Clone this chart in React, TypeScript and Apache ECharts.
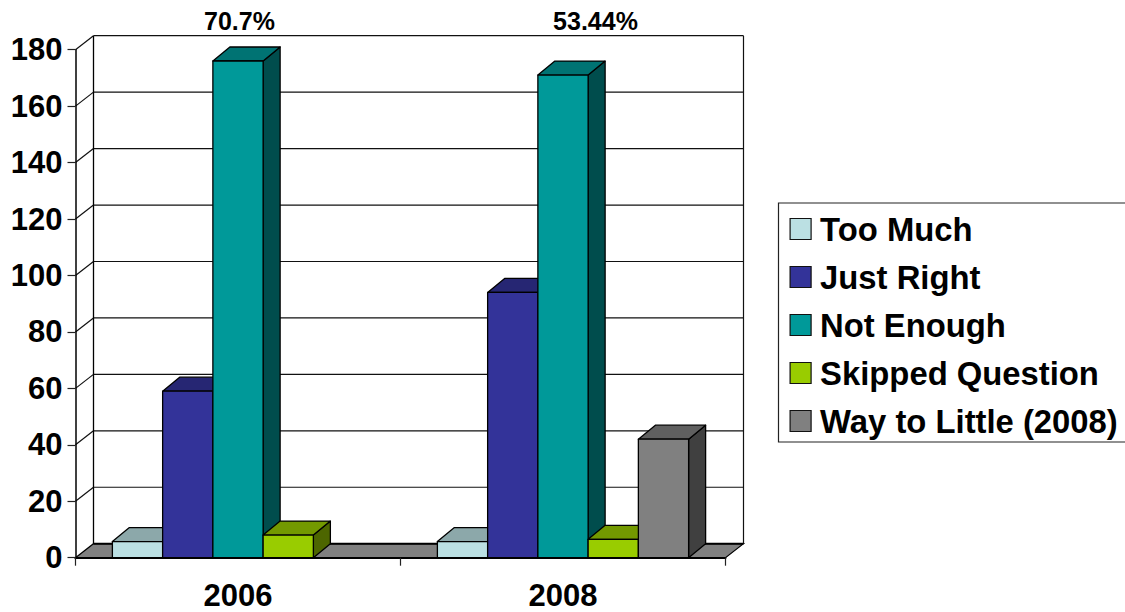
import React, { useEffect, useRef } from "react";
import * as echarts from "echarts";

const years = ["2006", "2008"];
const tooMuch = [5.7, 5.7];
const justRight = [59, 94];
const notEnough = [176, 171];
const skipped = [8, 6.5];
const wayToLittle = [null, 42];
const seriesNames = ["Too Much", "Just Right", "Not Enough", "Skipped Question", "Way to Little (2008)"];
const yTicks = [0, 20, 40, 60, 80, 100, 120, 140, 160, 180];
const topNotes = ["70.7%", "53.44%"];

const palette = [
  { front: "#BBE0E3", top: "#8CA8AA", side: "#5E7072" },
  { front: "#333399", top: "#262673", side: "#1A1A4D" },
  { front: "#009999", top: "#007373", side: "#004D4D" },
  { front: "#99CC00", top: "#739900", side: "#4D6600" },
  { front: "#808080", top: "#606060", side: "#404040" },
];

const FONT = "'Liberation Sans', Arial, sans-serif";
const WALL_DX = 18;
const WALL_DY = -14;
const BAR_DX = 17;
const BAR_DY = -14;
const BAR_FRAC = 0.1546;
const INK = "#000";

const barSeries = (name: string, values: (number | null)[], idx: number) => ({
  type: "custom",
  name,
  z: 3 + idx,
  clip: false,
  itemStyle: { color: palette[idx].front },
  data: values.map((v, i) => [i, v]),
  encode: { x: 0, y: 1 },
  renderItem: (_p: any, api: any) => {
    const v = api.value(1);
    if (v === null || v === undefined || isNaN(v)) return null;
    const c = palette[idx];
    const catW = api.size([1, 0])[0];
    const w = catW * BAR_FRAC;
    const [cx, yTop] = api.coord([api.value(0), v]);
    const [, yBase] = api.coord([api.value(0), 0]);
    const x0 = cx + (idx - 2.5) * w;
    const x1 = x0 + w;
    const stroke = { stroke: INK, lineWidth: 1.3, lineJoin: "round" };
    return {
      type: "group",
      children: [
        {
          type: "polygon",
          shape: { points: [[x1, yTop], [x1 + BAR_DX, yTop + BAR_DY], [x1 + BAR_DX, yBase + BAR_DY], [x1, yBase]] },
          style: { fill: c.side, ...stroke },
        },
        {
          type: "polygon",
          shape: { points: [[x0, yTop], [x0 + BAR_DX, yTop + BAR_DY], [x1 + BAR_DX, yTop + BAR_DY], [x1, yTop]] },
          style: { fill: c.top, ...stroke },
        },
        {
          type: "rect",
          shape: { x: x0, y: yTop, width: w, height: yBase - yTop },
          style: { fill: c.front, ...stroke },
        },
      ],
    };
  },
});

const wallSeries = {
  type: "custom",
  name: "walls",
  z: 1,
  clip: false,
  silent: true,
  data: yTicks.map((t) => [0, t]),
  encode: { x: 0, y: 1 },
  renderItem: (params: any, api: any) => {
    const sys = params.coordSys;
    const left = sys.x;
    const right = sys.x + sys.width;
    const t = api.value(1);
    const y = api.coord([0, t])[1];
    const line = { stroke: "#111", lineWidth: 1.2 };
    const children: any[] = [];
    if (t === 0) {
      children.push({
        type: "polygon",
        shape: { points: [[left, y], [left + WALL_DX, y + WALL_DY], [right + WALL_DX, y + WALL_DY], [right, y]] },
        style: { fill: "#808080", stroke: INK, lineWidth: 1.2 },
      });
      children.push({
        type: "line",
        shape: { x1: left + WALL_DX, y1: y + WALL_DY, x2: right + WALL_DX, y2: y + WALL_DY },
        style: { stroke: INK, lineWidth: 2 },
      });
    } else {
      children.push({
        type: "line",
        shape: { x1: left + WALL_DX, y1: y + WALL_DY, x2: right + WALL_DX, y2: y + WALL_DY },
        style: line,
      });
      children.push({
        type: "line",
        shape: { x1: left, y1: y, x2: left + WALL_DX, y2: y + WALL_DY },
        style: line,
      });
    }
    if (t === yTicks[yTicks.length - 1]) {
      const yb = api.coord([0, 0])[1];
      children.push({
        type: "line",
        shape: { x1: left + WALL_DX, y1: y + WALL_DY, x2: left + WALL_DX, y2: yb + WALL_DY },
        style: { stroke: INK, lineWidth: 1.3 },
      });
      children.push({
        type: "line",
        shape: { x1: right + WALL_DX, y1: y + WALL_DY, x2: right + WALL_DX, y2: yb + WALL_DY },
        style: line,
      });
    }
    return { type: "group", children };
  },
};

export default function App() {
  const ref = useRef<HTMLDivElement>(null);
  useEffect(() => {
    if (!ref.current) return;
    const chart = echarts.init(ref.current, undefined, { renderer: "svg" });
    const allValues = [tooMuch, justRight, notEnough, skipped, wayToLittle];
    chart.setOption({
      animation: false,
      backgroundColor: "#fff",
      grid: { left: 75.5, top: 49.7, width: 650, height: 508 },
      xAxis: {
        type: "category",
        data: years,
        z: 8,
        axisLine: { show: true, lineStyle: { color: INK, width: 2 } },
        axisTick: { show: true, alignWithLabel: false, length: 8, lineStyle: { color: "#222", width: 1.2 } },
        axisLabel: { color: INK, fontFamily: FONT, fontWeight: "bold", fontSize: 31, margin: 22 },
        splitLine: { show: false },
      },
      yAxis: {
        type: "value",
        min: 0,
        max: 180,
        interval: 20,
        z: 8,
        axisLine: { show: true, lineStyle: { color: INK, width: 1.5 } },
        axisTick: { show: true, length: 8, lineStyle: { color: "#222", width: 1.2 } },
        axisLabel: { color: INK, fontFamily: FONT, fontWeight: "bold", fontSize: 31, margin: 13 },
        splitLine: { show: false },
      },
      legend: {
        left: 778.5,
        top: 203,
        orient: "vertical",
        icon: "rect",
        itemWidth: 21,
        itemHeight: 21,
        itemGap: 12,
        padding: [8, 10, 3, 11],
        borderColor: "#222",
        borderWidth: 1.2,
        backgroundColor: "#fff",
        selectedMode: false,
        textStyle: { color: INK, fontFamily: FONT, fontWeight: "bold", fontSize: 32.8, padding: [0, 0, 0, 4], lineHeight: 36 },
        data: seriesNames.map((name, i) => ({
          name,
          itemStyle: { color: palette[i].front, borderColor: "#111", borderWidth: 1.2 },
        })),
      },
      graphic: topNotes.map((text, i) => ({
        type: "text",
        x: [239.5, 595.5][i],
        y: 21,
        style: {
          text,
          fill: INK,
          font: `bold 25px ${FONT}`,
          textAlign: "center",
          textVerticalAlign: "middle",
        },
      })),
      series: [wallSeries, ...seriesNames.map((n, i) => barSeries(n, allValues[i], i))],
    });
    return () => chart.dispose();
  }, []);
  return (
    <div
      ref={ref}
      style={{ position: "fixed", left: 0, top: 0, width: 1125, height: 612, overflow: "hidden", background: "#fff" }}
    />
  );
}
